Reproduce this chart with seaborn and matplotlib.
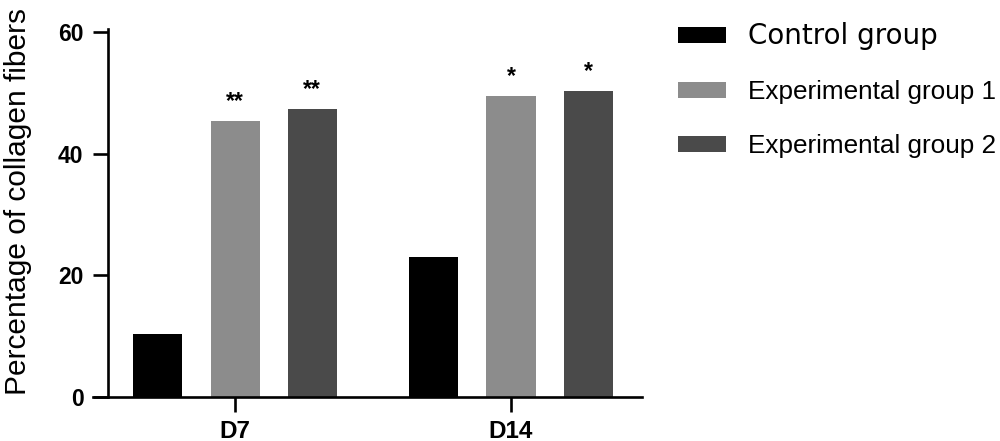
import matplotlib
matplotlib.use("Agg")
import matplotlib.pyplot as plt
import seaborn as sns
import pandas as pd

days = ["D7", "D14"]
groups = ["Control group", "Experimental group 1", "Experimental group 2"]
control = [10.3, 23.0]
exp1 = [45.4, 49.5]
exp2 = [47.3, 50.3]
signif_exp1 = ["**", "*"]
signif_exp2 = ["**", "*"]
colors = ["#000000", "#8c8c8c", "#4a4a4a"]
yticks = [0, 20, 40, 60]

rows = []
for g, vals in zip(groups, [control, exp1, exp2]):
    for d, v in zip(days, vals):
        rows.append({"Day": d, "Group": g, "Value": v})
df = pd.DataFrame(rows)

sns.set_theme(style="ticks")
plt.rcParams["font.family"] = ["Liberation Sans", "DejaVu Sans"]
for k in ["text.color", "axes.labelcolor", "xtick.color", "ytick.color", "axes.edgecolor"]:
    plt.rcParams[k] = "black"

fig = plt.figure(figsize=(10, 4.41), dpi=100)
ax = fig.add_axes([0.093, 0.0998, 0.549, 0.827])

sns.barplot(data=df, x="Day", y="Value", hue="Group", order=days, hue_order=groups,
            palette=colors, width=0.84, gap=0.364, ax=ax, errorbar=None,
            edgecolor="none", linewidth=0)

ax.set_xlim(-0.515, 1.475)
ax.set_ylim(0, 60)
ax.spines["left"].set_position(("data", -0.46))
ax.spines["left"].set_bounds(0, 60.5)
for s in ["top", "right"]:
    ax.spines[s].set_visible(False)
for s in ["left", "bottom"]:
    ax.spines[s].set_linewidth(1.9)
    ax.spines[s].set_color("black")

ax.set_yticks(yticks)
ax.set_yticklabels([str(t) for t in yticks], fontsize=16.5, fontweight="bold")
ax.set_xticks(range(len(days)))
ax.set_xticklabels(days, fontsize=17.5, fontweight="bold")
ax.tick_params(axis="y", length=10.8, width=1.9, color="black", pad=7)
ax.tick_params(axis="x", length=10.5, width=1.9, color="black", pad=6)
ax.set_xlabel("")
ax.set_ylabel("Percentage of collagen fibers", fontsize=21.5, color="black")
ax.yaxis.set_label_coords(-0.111, 0.537)

# significance marks
containers = ax.containers
for cont, marks in zip(containers[1:], [signif_exp1, signif_exp2]):
    for bar, m in zip(cont, marks):
        x = bar.get_x() + bar.get_width() / 2
        y = bar.get_height()
        ax.text(x, y + 1.4, m, ha="center", va="bottom", fontsize=16.5, fontweight="bold")

handles, labels = ax.get_legend_handles_labels()
ax.get_legend().remove()
leg = fig.legend(handles, labels, loc="upper left", bbox_to_anchor=(0.668, 0.973),
                 frameon=False, fontsize=18.8, handlelength=1.84, handleheight=0.55,
                 handletextpad=0.84, labelspacing=1.14, borderaxespad=0)
texts = leg.get_texts()
texts[0].set_fontfamily("DejaVu Sans")
texts[0].set_fontsize(20)

fig.savefig("out.png", dpi=100)
